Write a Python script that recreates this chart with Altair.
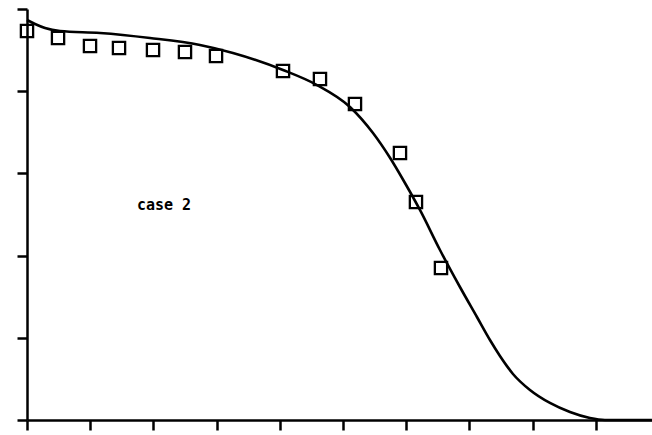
import altair as alt
import pandas as pd

# curve
curve_x = [0.0, 0.127, 0.285, 0.522, 1.155, 1.946, 2.737, 3.259, 4.051, 4.589, 5.111, 5.475,
           5.744, 5.981, 6.218, 6.535, 6.851, 7.120, 7.326, 7.484, 7.690, 7.959, 8.275,
           8.592, 8.908, 9.146, 9.889]
curve_y = [4.866, 4.818, 4.769, 4.732, 4.708, 4.647, 4.562, 4.465, 4.258, 4.075, 3.808, 3.491,
           3.190, 2.883, 2.555, 2.068, 1.618, 1.253, 0.973, 0.779, 0.560, 0.365, 0.207,
           0.097, 0.024, 0.0, 0.0]

# measured points (squares)
pts_x = [0.0, 0.491, 0.997, 1.456, 1.994, 2.5, 2.991, 4.051, 4.636, 5.19, 5.902, 6.155, 6.551]
pts_y = [4.732, 4.647, 4.550, 4.526, 4.501, 4.477, 4.428, 4.246, 4.148, 3.844, 3.248, 2.652, 1.849]

label_text = ["case 2"]
label_x = [2.168]
label_y = [2.62]

curve = pd.DataFrame({"x": curve_x, "y": curve_y})
pts = pd.DataFrame({"x": pts_x, "y": pts_y})
lab = pd.DataFrame({"x": label_x, "y": label_y, "t": label_text})

xs = alt.Scale(domain=[0, 9.89], nice=False, zero=False)
ys = alt.Scale(domain=[0, 5], nice=False)

xaxis = alt.Axis(values=list(range(0, 10)), labels=False, title=None, grid=False,
                 domainColor="black", domainWidth=2.5, tickColor="black", tickWidth=2.5,
                 tickSize=10)
yaxis = alt.Axis(values=list(range(0, 6)), labels=False, title=None, grid=False,
                 domainColor="black", domainWidth=2.5, tickColor="black", tickWidth=2.5,
                 tickSize=10)

line = alt.Chart(curve).mark_line(color="black", strokeWidth=2.6, interpolate="monotone").encode(
    x=alt.X("x:Q", scale=xs, axis=xaxis),
    y=alt.Y("y:Q", scale=ys, axis=yaxis),
)

squares = alt.Chart(pts).mark_point(shape="square", filled=False, color="black",
                                    size=150, strokeWidth=2.3, opacity=1).encode(
    x=alt.X("x:Q", scale=xs),
    y=alt.Y("y:Q", scale=ys),
)

text = alt.Chart(lab).mark_text(font="DejaVu Sans Mono", fontWeight="bold", fontSize=15,
                                color="black").encode(
    x=alt.X("x:Q", scale=xs),
    y=alt.Y("y:Q", scale=ys),
    text="t:N",
)

chart = alt.layer(line, squares, text).properties(
    width=625, height=411,
    autosize=alt.AutoSizeParams(type="none"),
    padding={"left": 27, "top": 9, "right": 0, "bottom": 15},
    background="white",
).configure_view(stroke=None)

chart.save("out.html", embed_options={"renderer": "svg", "actions": False})
